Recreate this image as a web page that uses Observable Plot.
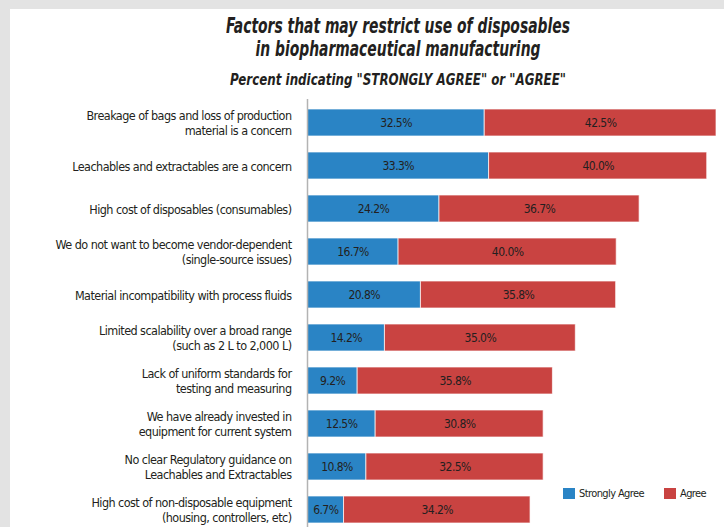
<!DOCTYPE html>
<html><head><meta charset="utf-8">
<script src="https://cdn.jsdelivr.net/npm/d3@7"></script>
<script src="https://cdn.jsdelivr.net/npm/@observablehq/plot@0.6"></script>
<style>
html,body{margin:0;padding:0;width:724px;height:527px;overflow:hidden;background:#e3e3e3;}
#panel{position:absolute;left:10px;top:9px;right:0;bottom:0;background:#fff;}
#chart{position:absolute;left:0;top:0;}
.f{font-family:"DejaVu Sans Condensed","Liberation Sans",sans-serif;color:#231f20;}
#title{position:absolute;left:0;width:796px;top:15px;text-align:center;font-size:21px;line-height:23px;font-weight:bold;font-style:italic;transform:scaleX(0.735);transform-origin:398px 0;}
#subtitle{position:absolute;left:0;width:796px;top:71px;text-align:center;font-size:15px;line-height:18px;font-weight:bold;font-style:italic;transform:scaleX(0.88);transform-origin:398px 0;}
#legend{position:absolute;top:487px;left:563px;font-size:11px;line-height:13px;letter-spacing:-0.6px;display:flex;align-items:center;}
#legend .sw{display:inline-block;width:12px;height:11px;margin-right:4px;}
#legend .it{display:flex;align-items:center;}
</style></head>
<body>
<div id="panel"></div>
<div id="chart"></div>
<div id="title" class="f">Factors that may restrict use of disposables<br>in biopharmaceutical manufacturing</div>
<div id="subtitle" class="f">Percent indicating "STRONGLY AGREE" or "AGREE"</div>
<div id="legend" class="f"></div>
<script>
const factors = [
  "Breakage of bags and loss of production\nmaterial is a concern",
  "Leachables and extractables are a concern",
  "High cost of disposables (consumables)",
  "We do not want to become vendor-dependent\n(single-source issues)",
  "Material incompatibility with process fluids",
  "Limited scalability over a broad range\n(such as 2 L to 2,000 L)",
  "Lack of uniform standards for\ntesting and measuring",
  "We have already invested in\nequipment for current system",
  "No clear Regulatory guidance on\nLeachables and Extractables",
  "High cost of non-disposable equipment\n(housing, controllers, etc)"
];
const stronglyAgree = [32.5, 33.3, 24.2, 16.7, 20.8, 14.2, 9.2, 12.5, 10.8, 6.7];
const agree = [42.5, 40.0, 36.7, 40.0, 35.8, 35.0, 35.8, 30.8, 32.5, 34.2];
const types = ["Strongly Agree", "Agree"];
const colors = ["#2a84c5", "#c94341"];

const FONT = '"DejaVu Sans Condensed","Liberation Sans",sans-serif';
const rows = factors.flatMap((f, i) => [
  {factor: f, type: types[0], value: stronglyAgree[i]},
  {factor: f, type: types[1], value: agree[i]}
]);

const chart = Plot.plot({
  width: 724, height: 534,
  marginLeft: 307, marginRight: 8, marginTop: 99, marginBottom: 0,
  style: {background: "transparent", fontFamily: FONT, fontSize: "12.5px", color: "#231f20", letterSpacing: "-0.55px"},
  x: {domain: [0, 75], axis: null},
  y: {domain: factors, paddingInner: 0.365, paddingOuter: 0.2, label: null, axis: null},
  color: {domain: types, range: colors},
  marks: [
    Plot.barX(rows, Plot.stackX({x: "value", y: "factor", fill: "type", stroke: "white", strokeOpacity: 0.7, strokeWidth: 1})),
    Plot.ruleX([0], {stroke: "#b3b3b3", strokeWidth: 1.5}),
    Plot.axisY({tickSize: 0, tickPadding: 16, lineHeight: 1.2, fontSize: 12.5, label: null, fill: "#231f20"}),
    Plot.text(rows, Plot.stackX({x: "value", y: "factor", text: d => d.value.toFixed(1) + "%", fill: "#231f20", fontSize: 12}))
  ]
});
document.getElementById("chart").appendChild(chart);

const lg = document.getElementById("legend");
types.forEach((t, i) => {
  const it = document.createElement("span");
  it.className = "it";
  it.style.marginRight = i === 0 ? "20px" : "0";
  it.innerHTML = `<span class="sw" style="background:${colors[i]}"></span><span>${t}</span>`;
  lg.appendChild(it);
});
</script>
</body></html>
